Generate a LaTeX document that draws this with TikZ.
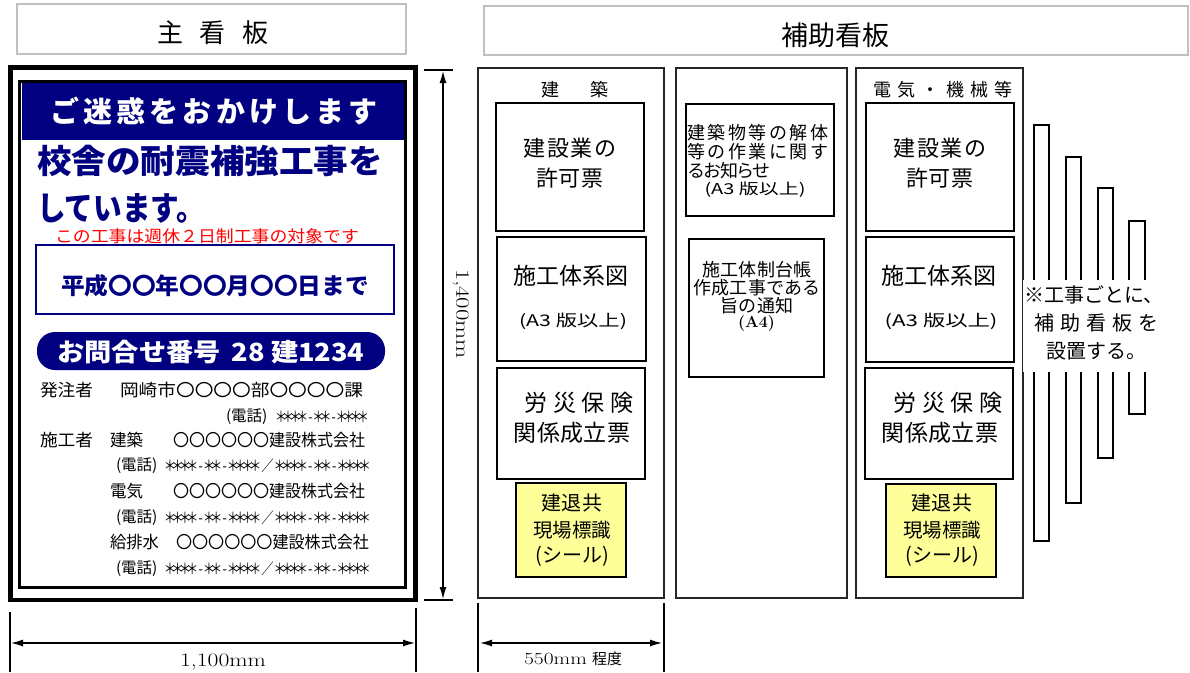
\documentclass[tikz,border=0pt]{standalone}
\usepackage{graphicx}
\usepackage{fontspec}
\newfontfamily\cjk{Noto Sans CJK JP}
\usetikzlibrary{arrows.meta}
\newcommand\fsz[1]{\fontsize{#1}{#1}\selectfont}
\newcommand\fitto[2]{\resizebox{#1pt}{\height}{#2}}
\newcommand\lsp[1]{\addfontfeature{LetterSpace=#1}}
\newcommand\stars[1]{{\addfontfeature{LetterSpace=-40}#1}}
\newcommand\phonetwo{\stars{＊＊＊＊}-\stars{＊＊}-\stars{＊＊＊＊}／\stars{＊＊＊＊}-\stars{＊＊}-\stars{＊＊＊＊}}
\newcommand\phoneone{\stars{＊＊＊＊}-\stars{＊＊}-\stars{＊＊＊＊}}
\definecolor{navy}{RGB}{0,0,128}
\definecolor{seal}{RGB}{255,255,153}
\definecolor{ttlgray}{RGB}{192,192,192}
\tikzset{
  txt/.style={inner sep=0pt, outer sep=0pt},
  tel/.style={txt, font=\cjk\fsz{15.5}, anchor=west},
  telnum/.style={txt, font=\cjk\fsz{15}, anchor=east},
  titlebox/.style={draw=ttlgray, line width=2pt, inner sep=0pt},
  panel/.style={draw=black!85, line width=1.4pt, inner sep=0pt},
  docbox/.style={draw=black, line width=2pt, inner sep=0pt},
  sealbox/.style={docbox, fill=seal},
  slat/.style={draw=black, line width=1.8pt, inner sep=0pt},
  dimline/.style={line width=1.2pt, {Latex[length=12pt,width=7pt]}-{Latex[length=12pt,width=7pt]}},
  dimtick/.style={line width=2.6pt},
}
\begin{document}
\begin{tikzpicture}[x=1pt,y=-1pt]
\useasboundingbox (0,0) rectangle (1190,672);

% ---------- titles
\node[titlebox, minimum width=389, minimum height=50] (t1) at (211.5,29) {};
\node[txt, font=\cjk\fsz{26}] (t1txt) at (213,33) {主\hspace{17pt}看\hspace{17pt}板};
\node[titlebox, minimum width=704, minimum height=49] (t2) at (836,30.5) {};
\node[txt, font=\cjk\fsz{27}] (t2txt) at (835,35) {補助看板};

% ---------- main board
\node[draw, line width=4.5pt, minimum width=405, minimum height=532.5, inner sep=0] (outer) at (213,333.75) {};
\node[fill=navy, minimum width=382, minimum height=57, inner sep=0] (band) at (212.5,111.5) {};
\node[draw, line width=3.5pt, minimum width=386, minimum height=506, inner sep=0] (inner) at (212.5,334.5) {};
\node[txt, text=white, font=\cjk\bfseries\fsz{29}\lsp{14}] (h1) at (214,111) {ご迷惑をおかけします};
\node[txt, text=navy, font=\cjk\bfseries\fsz{33}] (h2) at (210,161) {\fitto{346}{校舎の耐震補強工事を}};
\node[txt, text=navy, font=\cjk\bfseries\fsz{33}, anchor=west] (h3) at (37,208) {\fitto{168}{しています。}};
\node[txt, text=red, font=\cjk\fsz{16.5}] (red) at (207,236) {\fitto{304}{この工事は週休２日制工事の対象です}};
\node[draw=navy, line width=2pt, minimum width=358, minimum height=69, inner sep=0] (date) at (215,279.5) {};
\node[txt, text=navy, font=\cjk\bfseries\fsz{23}] (datetxt) at (215,286) {\fitto{308}{平成〇〇年〇〇月〇〇日まで}};
\node[fill=navy, rounded corners=18pt, minimum width=348, minimum height=38, inner sep=0] (pill) at (211,351) {};
\node[txt, text=white, font=\cjk\bfseries\fsz{25}] (pilltxt) at (211,352) {\fitto{307}{お問合せ番号\hspace{10pt}28 建1234}};

\node[txt, font=\cjk\fsz{17}, anchor=west] (l1a) at (40,390) {\fitto{53}{発注者}};
\node[txt, font=\cjk\fsz{17}, anchor=west] (l1b) at (120,390) {\fitto{243}{岡崎市〇〇〇〇部〇〇〇〇課}};
\node[tel] (p1t) at (226,417) {(電話)};
\node[telnum] (p1s) at (369,417) {\fitto{94}{\phoneone}};
\node[txt, font=\cjk\fsz{17}, anchor=west] (l2a) at (40,440) {\fitto{53}{施工者}};
\node[txt, font=\cjk\fsz{17}, anchor=west] (l2b) at (110,440) {\fitto{33}{建築}};
\node[txt, font=\cjk\fsz{17}, anchor=west] (l2c) at (173,440) {\fitto{192}{〇〇〇〇〇〇建設株式会社}};
\node[tel] (p2t) at (116,466) {(電話)};
\node[telnum] (p2s) at (371,466) {\fitto{207}{\phonetwo}};
\node[txt, font=\cjk\fsz{17}, anchor=west] (l3a) at (110,491) {\fitto{33}{電気}};
\node[txt, font=\cjk\fsz{17}, anchor=west] (l3b) at (173,491) {\fitto{192}{〇〇〇〇〇〇建設株式会社}};
\node[tel] (p3t) at (116,518) {(電話)};
\node[telnum] (p3s) at (371,518) {\fitto{207}{\phonetwo}};
\node[txt, font=\cjk\fsz{17}, anchor=west] (l4a) at (110,542) {\fitto{49}{給排水}};
\node[txt, font=\cjk\fsz{17}, anchor=west] (l4b) at (176,542) {\fitto{193}{〇〇〇〇〇〇建設株式会社}};
\node[tel] (p4t) at (116,569) {(電話)};
\node[telnum] (p4s) at (371,569) {\fitto{207}{\phonetwo}};

% ---------- dimensions of main board
\coordinate (w1a) at (10,612); \coordinate (w1b) at (10,672);
\coordinate (w2a) at (416,608); \coordinate (w2b) at (416,672);
\draw[dimtick] (w1a) -- (w1b);
\draw[dimtick] (w2a) -- (w2b);
\coordinate (wl) at (11,643); \coordinate (wr) at (415,643);
\draw[dimline] (wl) -- (wr);
\node[txt, font=\fsz{19}] (wtxt) at (223,662) {\fitto{86}{1,100mm}};

\coordinate (h1a) at (424,70); \coordinate (h1b) at (453,70);
\coordinate (h2a) at (424,600); \coordinate (h2b) at (453,600);
\draw[line width=1.2pt] (h1a) -- (h1b);
\draw[line width=1.2pt] (h2a) -- (h2b);
\coordinate (ht) at (443,71); \coordinate (hb) at (443,599);
\draw[dimline] (ht) -- (hb);
\node[txt, font=\fsz{19}, rotate=-90] (htxt) at (461,314) {\fitto{90}{1,400mm}};

% ---------- auxiliary panels
\node[panel, minimum width=186, minimum height=530] (P1) at (571,333) {};
\node[panel, minimum width=171, minimum height=530] (P2) at (761.5,333) {};
\node[panel, minimum width=167, minimum height=530] (P3) at (939.5,333) {};

% panel 1
\node[txt, font=\cjk\fsz{18}] (P1h) at (575,90) {建\hspace{31pt}築};
\node[docbox, minimum width=148, minimum height=128] (B11) at (570,167) {};
\node[txt, font=\cjk\fsz{22}\lsp{8}] (B11a) at (570,148) {建設業の};
\node[txt, font=\cjk\fsz{22}\lsp{2}] (B11b) at (570,178) {許可票};
\node[docbox, minimum width=149, minimum height=124] (B12) at (571.5,299) {};
\node[txt, font=\cjk\fsz{23}] (B12a) at (571,276) {施工体系図};
\node[txt, font=\cjk\fsz{16}] (B12b) at (573,321) {\fitto{108}{(A3 版以上)}};
\node[docbox, minimum width=148, minimum height=111] (B13) at (571,423.5) {};
\node[txt, font=\cjk\fsz{23}\lsp{25}] (B13a) at (579,403) {労災保険};
\node[txt, font=\cjk\fsz{23}\lsp{2}] (B13b) at (572,433) {関係成立票};
\node[sealbox, minimum width=110, minimum height=94] (Y1) at (571,530) {};
\node[txt, font=\cjk\fsz{20}\lsp{4}] (Y1a) at (572,503) {建退共};
\node[txt, font=\cjk\fsz{19.5}] (Y1b) at (572,530) {現場標識};
\node[txt, font=\cjk\fsz{20}] (Y1c) at (572,556) {(シール)};

% panel 2
\node[docbox, minimum width=148, minimum height=112] (B21) at (760,160) {};
\node[txt, font=\cjk\fsz{18}\lsp{14}, anchor=west] (B21a) at (687,133) {建築物等の解体};
\node[txt, font=\cjk\fsz{18}\lsp{14}, anchor=west] (B21b) at (687,152) {等の作業に関す};
\node[txt, font=\cjk\fsz{18}\lsp{-8}, anchor=west] (B21c) at (687,171) {るお知らせ};
\node[txt, font=\cjk\fsz{15}] (B21d) at (755,190) {\fitto{101}{(A3 版以上)}};
\node[docbox, minimum width=135, minimum height=138] (B22) at (756.5,308) {};
\node[txt, font=\cjk\fsz{18}\lsp{2}] (B22a) at (757,270) {施工体制台帳};
\node[txt, font=\cjk\fsz{18}\lsp{2}] (B22b) at (757,288) {作成工事である};
\node[txt, font=\cjk\fsz{18}\lsp{2}] (B22c) at (757,306) {旨の通知};
\node[txt, font=\bfseries\fsz{16}] (B22d) at (756.5,324) {(A4)};

% panel 3
\node[txt, font=\cjk\fsz{18}\lsp{35}] (P3h) at (943,90) {電気・機械等};
\node[docbox, minimum width=148, minimum height=128] (B31) at (940,167) {};
\node[txt, font=\cjk\fsz{22}\lsp{8}] (B31a) at (940,148) {建設業の};
\node[txt, font=\cjk\fsz{22}\lsp{2}] (B31b) at (940,178) {許可票};
\node[docbox, minimum width=148, minimum height=125] (B32) at (940,299.5) {};
\node[txt, font=\cjk\fsz{23}] (B32a) at (939,276) {施工体系図};
\node[txt, font=\cjk\fsz{16}] (B32b) at (941,321) {\fitto{113}{(A3 版以上)}};
\node[docbox, minimum width=148, minimum height=111] (B33) at (939,423.5) {};
\node[txt, font=\cjk\fsz{23}\lsp{25}] (B33a) at (948,403) {労災保険};
\node[txt, font=\cjk\fsz{23}\lsp{2}] (B33b) at (940,433) {関係成立票};
\node[sealbox, minimum width=110, minimum height=93] (Y3) at (941,530.5) {};
\node[txt, font=\cjk\fsz{20}\lsp{4}] (Y3a) at (942,503) {建退共};
\node[txt, font=\cjk\fsz{19.5}] (Y3b) at (942,530) {現場標識};
\node[txt, font=\cjk\fsz{20}] (Y3c) at (942,556) {(シール)};

% stacked extra boards
\node[slat, minimum width=15, minimum height=416] (S1) at (1041.5,333) {};
\node[slat, minimum width=15, minimum height=346] (S2) at (1073.5,330) {};
\node[slat, minimum width=15, minimum height=270] (S3) at (1105.5,323) {};
\node[slat, minimum width=16, minimum height=193] (S4) at (1137,317.5) {};
\fill[white] (1023,280) rectangle (1190,372);
\node[txt, font=\cjk\fsz{20}, anchor=west] (n1) at (1024,295) {※工事ごとに、};
\node[txt, font=\cjk\fsz{20}\lsp{30}, anchor=west] (n2) at (1034,323) {補助看板を};
\node[txt, font=\cjk\fsz{20}, anchor=west] (n3) at (1046,351) {設置する。};

% dimension of auxiliary panel
\coordinate (a1a) at (478,603); \coordinate (a1b) at (478,672);
\coordinate (a2a) at (664,603); \coordinate (a2b) at (664,672);
\draw[dimtick] (a1a) -- (a1b);
\draw[dimtick] (a2a) -- (a2b);
\coordinate (al) at (480,643); \coordinate (ar) at (662,643);
\draw[dimline] (al) -- (ar);
\node[txt, font=\fsz{17}] (atxt) at (573,659) {\fitto{63}{550mm}\hspace{5pt}{\cjk\fsz{15}程度}};
\end{tikzpicture}
\end{document}
